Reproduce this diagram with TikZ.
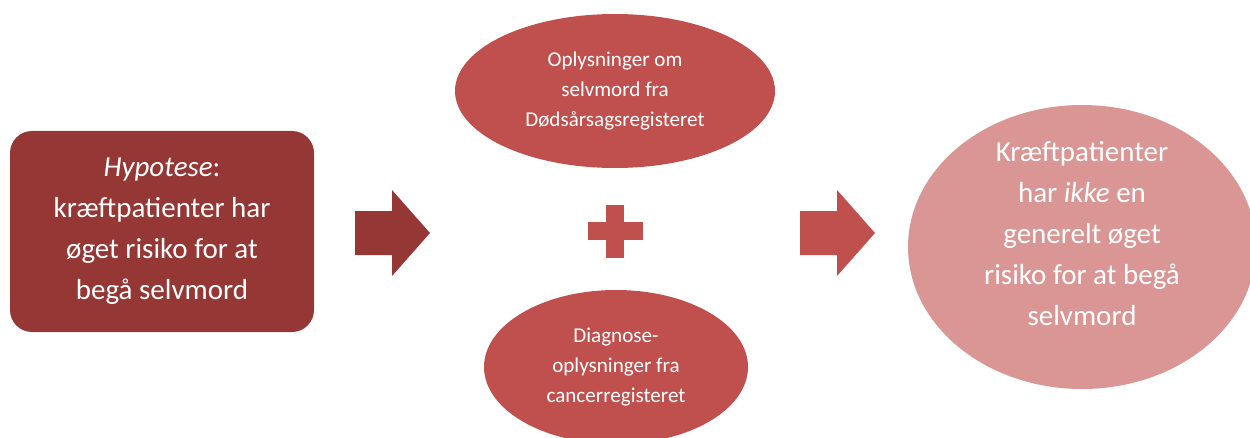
\documentclass[tikz,border=0pt]{standalone}
\usepackage{fontspec}
\setmainfont{Carlito}
\usetikzlibrary{shapes.geometric,positioning}

\definecolor{darkred}{HTML}{953735}
\definecolor{midred}{HTML}{C0504D}
\definecolor{lightred}{HTML}{D99694}

\tikzset{
	bigtext/.style={text=white,align=center,font=\fontsize{16.5}{23.3}\selectfont},
	smalltext/.style={text=white,align=center,font=\fontsize{12}{17}\selectfont},
	blob/.style={ellipse,fill=midred,inner sep=0pt}
}

\begin{document}
\begin{tikzpicture}
	\useasboundingbox (0,0) rectangle (25,8.74);
	\clip (0,0) rectangle (25,8.74);

	% Hypothesis box
	\node[bigtext,fill=darkred,rounded corners=0.44cm,minimum width=6.08cm,minimum height=4.02cm]
		(hyp) at (3.24,4.11) {\textit{Hypotese}:\\kræftpatienter har\\øget risiko for at\\begå selvmord};

	% Data sources
	\node[blob,smalltext,minimum width=6.4cm,minimum height=3.08cm]
		(death) at (12.30,6.92) {Oplysninger om\\selvmord fra\\Dødsårsagsregisteret};
	\node[blob,smalltext,minimum width=5.28cm,minimum height=3.08cm]
		(cancer) at (12.32,1.40) {Diagnose-\\oplysninger fra\\cancerregisteret};

	% Plus sign
	\coordinate (plus) at (12.30,4.12);
	\fill[midred] ([xshift=-0.55cm,yshift=-0.18cm]plus) rectangle ([xshift=0.55cm,yshift=0.18cm]plus);
	\fill[midred] ([xshift=-0.18cm,yshift=-0.53cm]plus) rectangle ([xshift=0.18cm,yshift=0.53cm]plus);

	% Block arrows
	\foreach \x/\c in {7.10/darkred, 16.00/midred}
		\fill[\c] (\x,3.64) -- ++(0.74,0) -- ++(0,-0.42) -- ++(0.76,0.86)
			-- ++(-0.76,0.86) -- ++(0,-0.42) -- ++(-0.74,0) -- cycle;

	% Result
	\node[ellipse,fill=lightred,minimum width=6.96cm,minimum height=5.68cm]
		(result) at (21.64,3.80) {};
	\node[bigtext] (resulttext) at ([yshift=0.27cm]result.center)
		{Kræftpatienter\\har \textit{ikke} en\\generelt øget\\risiko for at begå\\selvmord};

\end{tikzpicture}
\end{document}
